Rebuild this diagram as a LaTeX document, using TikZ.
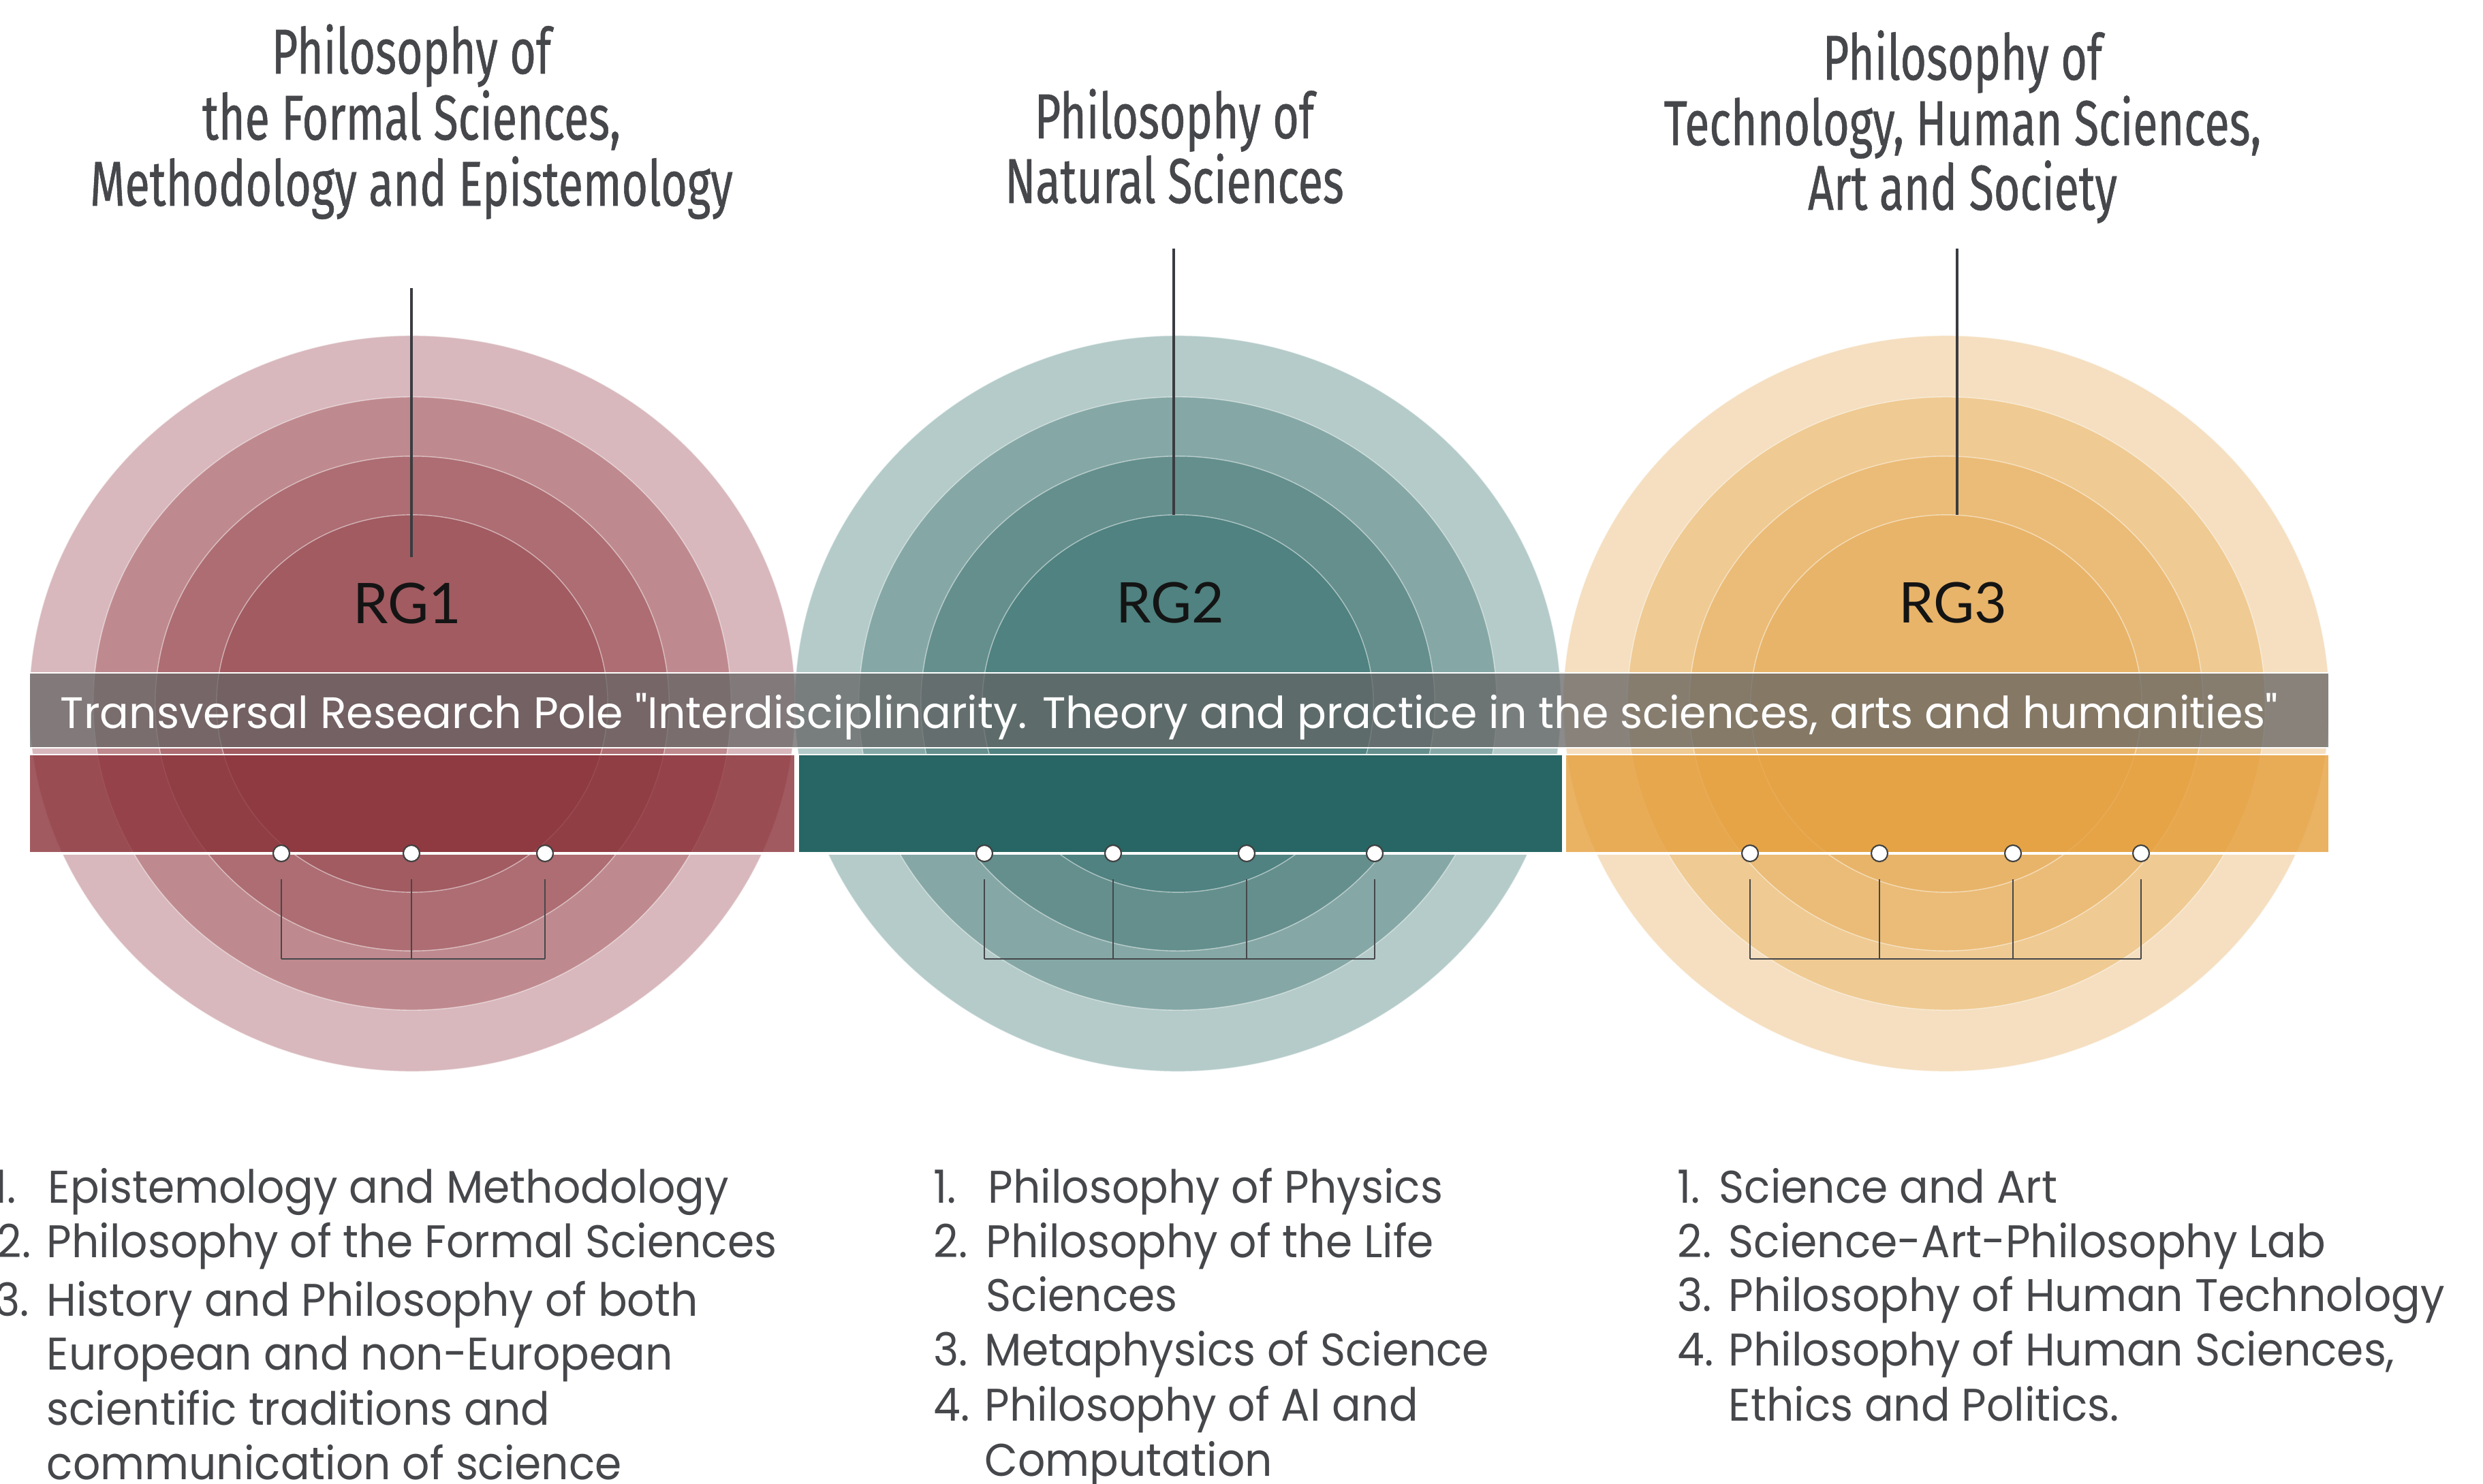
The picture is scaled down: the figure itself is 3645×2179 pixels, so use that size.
\documentclass[tikz,border=0pt]{standalone}
\usepackage{fontspec}
\newfontfamily\titlefont[FakeStretch=0.71,FakeBold=0.6]{Fira Sans}
\newfontfamily\listfont[FakeStretch=0.94]{Poppins}
\newfontfamily\polefont[FakeStretch=0.98]{Poppins}
\newfontfamily\rgfont{Lato}
\definecolor{txt}{HTML}{45474B}
\definecolor{linec}{HTML}{3A3C40}
\definecolor{rA}{HTML}{D8B8BD}\definecolor{rB}{HTML}{BF8A8F}\definecolor{rC}{HTML}{AD6D72}\definecolor{rD}{HTML}{A15B61}
\definecolor{tA}{HTML}{B4CBC9}\definecolor{tB}{HTML}{85A8A6}\definecolor{tC}{HTML}{648F8D}\definecolor{tD}{HTML}{4F8280}
\definecolor{oA}{HTML}{F5DFC0}\definecolor{oB}{HTML}{EFCA92}\definecolor{oC}{HTML}{EBBC77}\definecolor{oD}{HTML}{E8B469}
\definecolor{rBand}{HTML}{8B3139}
\definecolor{tBand}{HTML}{276664}
\definecolor{oBand}{HTML}{E59F3C}
\definecolor{poleGray}{HTML}{646464}
\begin{document}
\begin{tikzpicture}[x=0.01cm,y=-0.01cm,
  ring/.style={draw=white,draw opacity=0.5,line width=0.4pt},
  titleline/.style={font=\titlefont\fontsize{26.5pt}{27.6pt}\selectfont,text=txt,anchor=base,inner sep=0pt},
  listtext/.style={font=\listfont\fontsize{19.1pt}{22pt}\selectfont,text=txt,anchor=base west,inner sep=0pt},
  rglabel/.style={font=\rgfont\fontsize{23.4pt}{26pt}\selectfont,text={black!92},anchor=base,inner sep=0pt},
  dotnode/.style={circle,fill=white,draw={black!75},line width=0.6pt,minimum size=0.24cm,inner sep=0pt},
  stem/.style={linec,line width=1.4pt},
  bracket/.style={txt,line width=0.75pt},
  band/.style={draw=white,line width=0.45pt}]
\useasboundingbox (0,0) rectangle (3645,2179);

% ---- concentric circles ----
\foreach \cx/\a/\b/\c/\d in {605/rA/rB/rC/rD, 1729/tA/tB/tC/tD, 2857/oA/oB/oC/oD}{
  \fill[\a,ring] (\cx,1033) ellipse [x radius=5.62cm, y radius=5.40cm];
  \fill[\b,ring] (\cx,1033) ellipse [x radius=4.68cm, y radius=4.50cm];
  \fill[\c,ring] (\cx,1033) ellipse [x radius=3.77cm, y radius=3.63cm];
  \fill[\d,ring] (\cx,1033) ellipse [x radius=2.87cm, y radius=2.77cm];
}

% ---- RG labels ----
\node[rglabel] (rg1) at (598,915) {RG1};
\node[rglabel] (rg2) at (1718,914) {RG2};
\node[rglabel] (rg3) at (2867,914) {RG3};

% ---- transversal pole band ----
\fill[poleGray,fill opacity=0.75,band] (43,988) rectangle (3419,1098);
\node[font=\polefont\fontsize{18.4pt}{20pt}\selectfont,text=white,anchor=base west,inner sep=0pt] (pole) at (88,1069)
  {Transversal Research Pole "Interdisciplinarity. Theory and practice in the sciences, arts and humanities"};

% ---- coloured bands ----
\fill[rBand,fill opacity=0.8,band] (43,1108) rectangle (1167,1252);
\fill[tBand,band] (1172,1108) rectangle (2294,1252);
\fill[oBand,fill opacity=0.8,band] (2298,1108) rectangle (3419,1252);
\draw[white,line width=0.9pt] (43,1253) -- (3419,1253);

% ---- stems from titles ----
\coordinate (s1a) at (604,423); \coordinate (s1b) at (604,818);
\coordinate (s2a) at (1723,365); \coordinate (s2b) at (1723,756);
\coordinate (s3a) at (2873,365); \coordinate (s3b) at (2873,756);
\draw[stem] (s1a) -- (s1b);
\draw[stem] (s2a) -- (s2b);
\draw[stem] (s3a) -- (s3b);

% ---- dots and brackets ----
\foreach \g/\xs in {1/{413,604,800}, 2/{1445,1634,1830,2018}, 3/{2569,2759,2955,3143}}{
  \foreach \x [count=\i] in \xs {
    \node[dotnode] (d\g\i) at (\x,1253) {};
    \coordinate (b\g\i) at (\x,1291);
    \coordinate (f\g\i) at (\x,1408);
    \draw[bracket] (b\g\i) -- (f\g\i);
  }
}
\draw[bracket] (f11) -- (f13);
\draw[bracket] (f21) -- (f24);
\draw[bracket] (f31) -- (f34);

% ---- titles ----
\node[titleline] (h1a) at (604,108) {Philosophy of};
\node[titleline] (h1b) at (604,205) {the Formal Sciences,};
\node[titleline] (h1c) at (604,302) {Methodology and Epistemology};
\node[titleline] (h2a) at (1724,203) {Philosophy of};
\node[titleline] (h2b) at (1724,298) {Natural Sciences};
\node[titleline] (h3a) at (2881,117) {Philosophy of};
\node[titleline] (h3b) at (2881,213) {Technology, Human Sciences,};
\node[titleline] (h3c) at (2881,308) {Art and Society};

% ---- list RG1 ----
\node[listtext] (n11) at (-10,1766) {1.};
\node[listtext] (l11) at (70,1766) {Epistemology and Methodology};
\node[listtext] (n12) at (-5,1846) {2.};
\node[listtext] (l12) at (68,1846) {Philosophy of the Formal Sciences};
\node[listtext] (n13) at (-8,1932) {3.};
\node[listtext] (l13) at (68,1932) {History and Philosophy of both};
\node[listtext] (l14) at (68,2011) {European and non-European};
\node[listtext] (l15) at (68,2092) {scientific traditions and};
\node[listtext] (l16) at (68,2172) {communication of science};

% ---- list RG2 ----
\node[listtext] (n21) at (1370,1766) {1.};
\node[listtext] (l21) at (1450,1766) {Philosophy of Physics};
\node[listtext] (n22) at (1370,1846) {2.};
\node[listtext] (l22) at (1447,1846) {Philosophy of the Life};
\node[listtext] (l23) at (1447,1925) {Sciences};
\node[listtext] (n23) at (1370,2005) {3.};
\node[listtext] (l24) at (1445,2005) {Metaphysics of Science};
\node[listtext] (n24) at (1370,2086) {4.};
\node[listtext] (l25) at (1445,2086) {Philosophy of AI and};
\node[listtext] (l26) at (1445,2167) {Computation};

% ---- list RG3 ----
\node[listtext] (n31) at (2462,1766) {1.};
\node[listtext] (l31) at (2523,1766) {Science and Art};
\node[listtext] (n32) at (2462,1846) {2.};
\node[listtext] (l32) at (2537,1846) {Science-Art-Philosophy Lab};
\node[listtext] (n33) at (2462,1925) {3.};
\node[listtext] (l33) at (2537,1925) {Philosophy of Human Technology};
\node[listtext] (n34) at (2462,2005) {4.};
\node[listtext] (l34) at (2537,2005) {Philosophy of Human Sciences,};
\node[listtext] (l35) at (2537,2086) {Ethics and Politics.};
\end{tikzpicture}
\end{document}
